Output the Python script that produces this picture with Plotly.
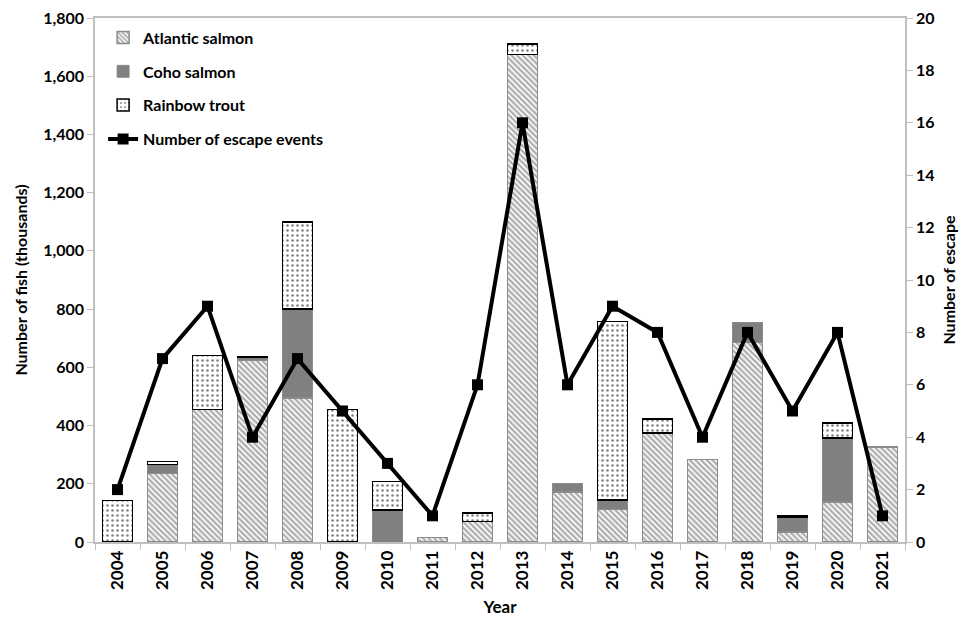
import plotly.graph_objects as go

years = [str(y) for y in range(2004, 2022)]
# None = species not present that year (avoids drawing a zero-height outline)
atlantic = [None, 235, 455, 625, 495, None, None, 15, 70, 1675, 172, 113, 375, 283, 685, 35, 138, 327]
coho = [None, 31, None, 10, 305, None, 110, None, None, None, 28, 32, None, None, 70, 50, 220, None]
rainbow = [143, 10, 185, 2, 300, 455, 98, None, 30, 35, None, 612, 48, None, None, 4, 50, None]
escapes = [2, 7, 9, 4, 7, 5, 3, 1, 6, 16, 6, 9, 8, 4, 8, 5, 8, 1]

font_family = "Lato"

fig = go.Figure()

fig.add_trace(go.Bar(
    x=years, y=atlantic, name="Atlantic salmon", legendgroup="a",
    marker=dict(color="white", line=dict(color="#8c8c8c", width=1.5),
                pattern=dict(shape="\\", fgcolor="#5a5a5a", bgcolor="white",
                             size=4, solidity=0.55)),
))
fig.add_trace(go.Bar(
    x=years, y=coho, name="Coho salmon", legendgroup="b",
    marker=dict(color="#808080", line=dict(color="#8c8c8c", width=1)),
))
fig.add_trace(go.Bar(
    x=years, y=rainbow, name="Rainbow trout", legendgroup="c",
    marker=dict(color="white", line=dict(color="black", width=1.5),
                pattern=dict(shape=".", fgcolor="black", bgcolor="white",
                             size=5, solidity=0.2)),
))
fig.add_trace(go.Scatter(
    x=years, y=escapes, name="Number of escape events", legendgroup="d",
    yaxis="y2", mode="lines+markers",
    line=dict(color="black", width=4),
    marker=dict(symbol="square", size=11, color="black"),
))

tick_font = dict(family=font_family, size=16, color="black", weight="bold")
title_font = dict(family=font_family, size=16, color="black", weight="bold")

# page body adds an 8px margin, so offsets are shifted to line up with the reference
fig.update_layout(
    width=969, height=622,
    barmode="stack", bargap=0.33,
    plot_bgcolor="white", paper_bgcolor="white",
    margin=dict(l=87, r=72, t=10, b=88),
    font=dict(family=font_family, color="black"),
    legend=dict(x=0.01, y=0.995, xanchor="left", yanchor="top",
                bgcolor="rgba(0,0,0,0)", tracegroupgap=10,
                font=dict(family=font_family, size=16, color="black", weight="bold")),
    xaxis=dict(
        type="category", range=[-0.5, len(years) - 0.5],
        showline=True, linecolor="#bfbfbf", linewidth=1.5,
        mirror=True, ticks="outside", tickcolor="#bfbfbf", ticklen=6,
        tickson="boundaries", tickangle=-90, automargin=False,
        tickfont=dict(family=font_family, size=17, color="black", weight="bold"),
        title=dict(text="Year", font=dict(family=font_family, size=17, color="black", weight="bold"),
                   standoff=12),
        showgrid=False,
    ),
    yaxis=dict(
        range=[0, 1800], dtick=200, tickformat=",", showline=True,
        linecolor="#bfbfbf", linewidth=1.5, ticks="outside", tickcolor="#bfbfbf",
        ticklen=6, tickfont=tick_font, showgrid=False, zeroline=False,
        ticklabeloverflow="allow", automargin=False,
        title=dict(text="Number of fish (thousands)", font=title_font, standoff=12),
    ),
    yaxis2=dict(
        range=[0, 20], dtick=2, overlaying="y", side="right", showline=True,
        linecolor="#bfbfbf", linewidth=1.5, ticks="outside", tickcolor="#bfbfbf",
        ticklen=6, tickfont=tick_font, showgrid=False, zeroline=False,
        ticklabeloverflow="allow", automargin=False,
        title=dict(text="Number of escape", font=title_font, standoff=10),
    ),
)

fig.write_html("out.html")
